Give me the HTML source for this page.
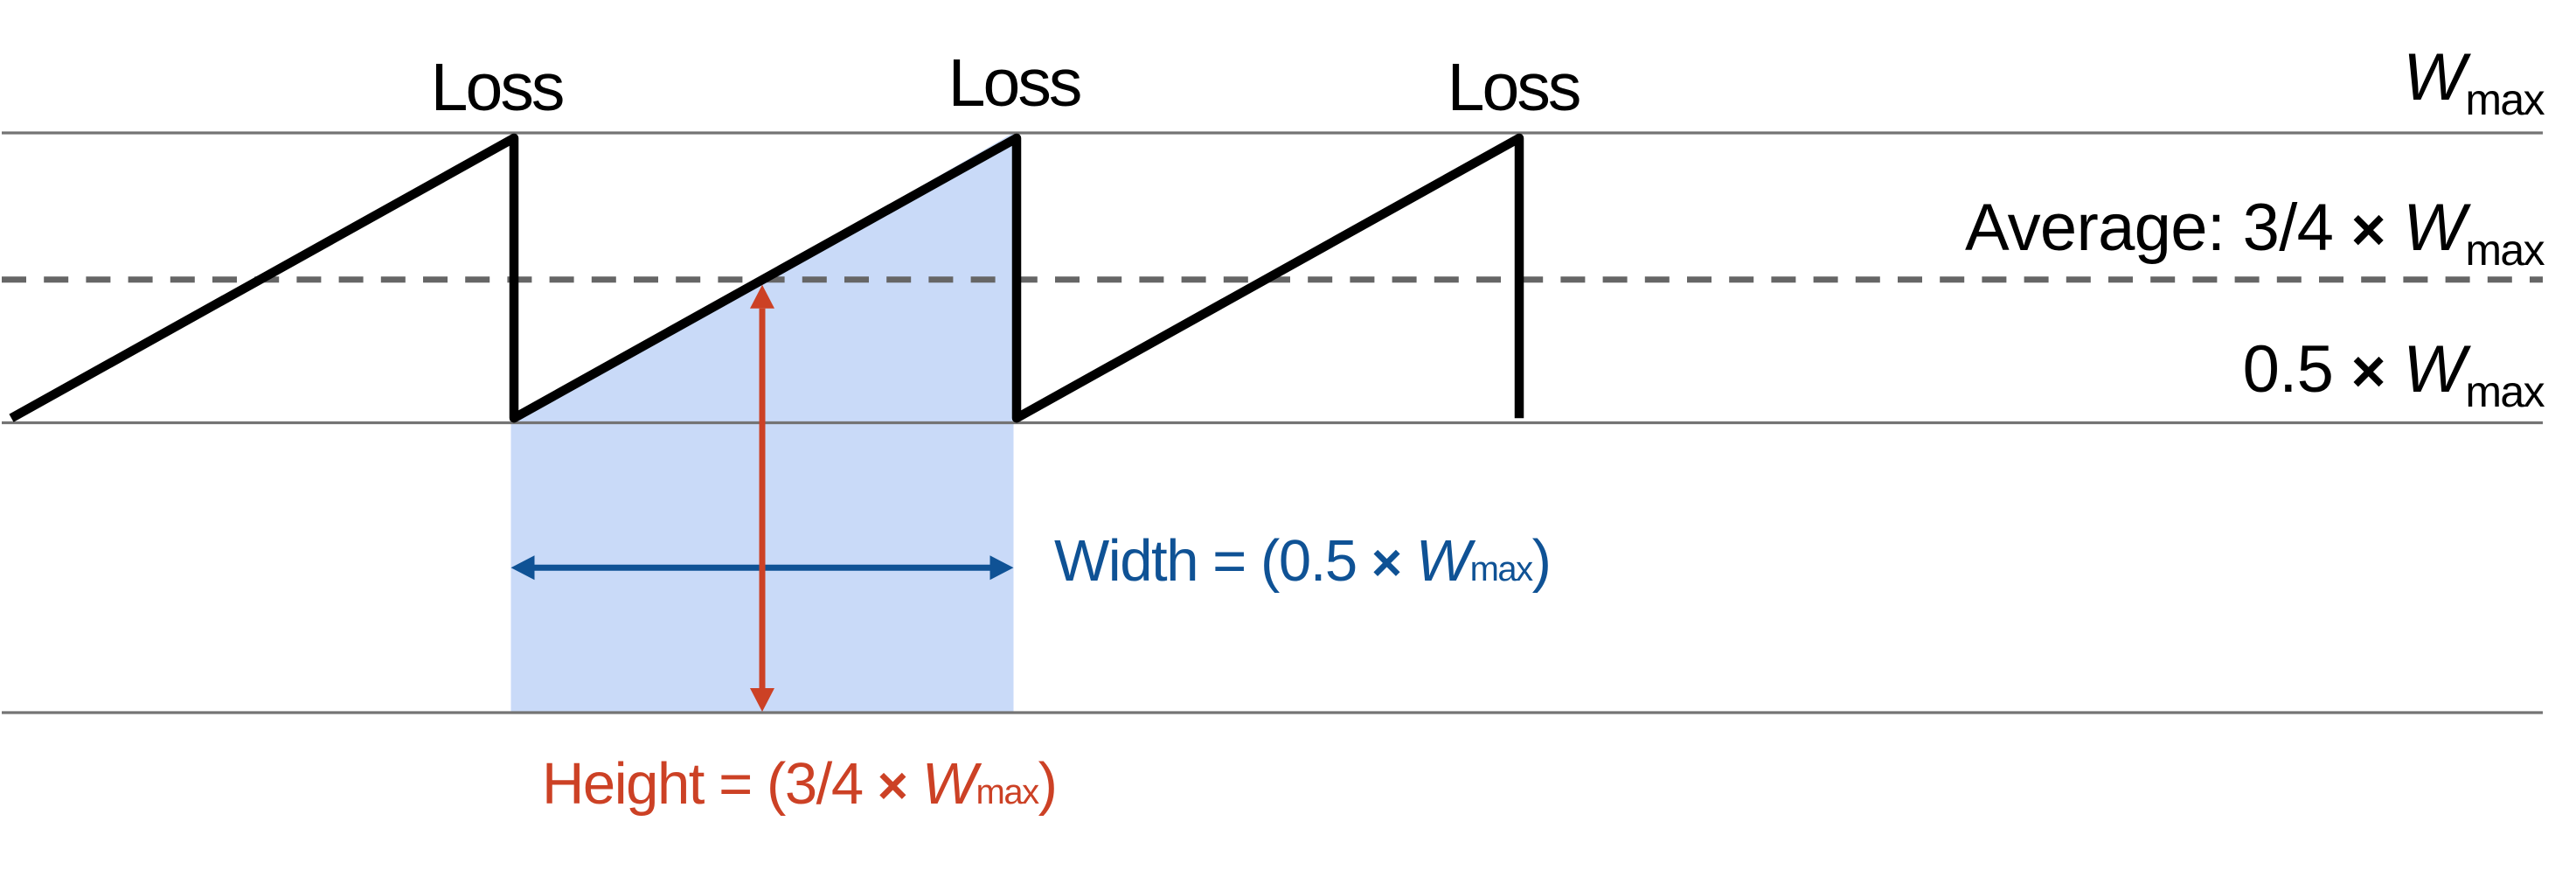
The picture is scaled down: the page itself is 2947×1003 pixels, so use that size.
<!DOCTYPE html>
<html lang="en">
<head>
<meta charset="utf-8">
<title>TCP sawtooth average window</title>
<style>
html,body{margin:0;padding:0;background:#fff;width:2947px;height:1003px;overflow:hidden}
svg{display:block}
text{font-family:"Liberation Sans",sans-serif}
.it{font-style:italic}
.big{font-size:77px;letter-spacing:-3px}
.lab{font-size:76px;letter-spacing:-0.7px}
.sub{font-size:50px;letter-spacing:-1.6px}
.mid{font-size:67px;letter-spacing:-1.45px}
.sub2{font-size:40px;letter-spacing:-1.5px}
.x{font-weight:bold;font-size:.9em}
</style>
</head>
<body>
<svg id="chart" xmlns="http://www.w3.org/2000/svg" width="2947" height="1003" viewBox="0 0 2947 1003">
  <g id="fill-layer"></g>
  <g id="grid-layer"></g>
  <g id="series-layer"></g>
  <g id="arrow-layer"></g>

  <text class="big" x="568" y="126" text-anchor="middle" fill="#000">Loss</text>
  <text class="big" x="1160" y="121" text-anchor="middle" fill="#000">Loss</text>
  <text class="big" x="1731" y="126" text-anchor="middle" fill="#000">Loss</text>

  <text class="lab" x="2910" y="114" text-anchor="end" fill="#000"><tspan class="it">W</tspan><tspan class="sub" dy="17">max</tspan></text>
  <text class="lab" x="2910" y="286" text-anchor="end" fill="#000">Average: 3/4 <tspan class="x">×</tspan> <tspan class="it">W</tspan><tspan class="sub" dy="17">max</tspan></text>
  <text class="lab" x="2910" y="448" text-anchor="end" fill="#000">0.5 <tspan class="x">×</tspan> <tspan class="it">W</tspan><tspan class="sub" dy="17">max</tspan></text>

  <text class="mid" x="1206" y="664" fill="#0f5295">Width = (0.5 <tspan class="x">×</tspan> <tspan class="it">W</tspan><tspan class="sub2">max</tspan>)</text>
  <text class="mid" x="620" y="919" fill="#cc4125">Height = (3/4 <tspan class="x">×</tspan> <tspan class="it">W</tspan><tspan class="sub2">max</tspan>)</text>
</svg>
<script>
// Chart data: time in congestion-cycle units, window as a fraction of Wmax
const timePoints = [0, 1, 1, 2, 2, 3, 3];
const windowValues = [0.508, 0.991, 0.508, 0.991, 0.508, 0.991, 0.508];
const gridValues = [1, 0.5, 0];
const averageValue = 0.747;
const areaTimes = [1, 1, 2, 2];
const areaValues = [0, 0.5, 1, 0];
const widthArrowTimes = [1, 2];
const widthArrowValue = 0.25;
const heightArrowTime = 1.5;
const heightArrowValues = [0, 0.738];

const NS = 'http://www.w3.org/2000/svg';
const xAxis = t => 13 + 575 * t;
const yAxis = v => 815 - 663 * v;
const fillX = t => xAxis(t) - 3.5;
const GRID_LEFT = 2;
const GRID_RIGHT = 2909;

function make(tag, parent, attrs) {
  const el = document.createElementNS(NS, tag);
  Object.keys(attrs).forEach(k => el.setAttribute(k, attrs[k]));
  parent.appendChild(el);
  return el;
}

const fillLayer = document.getElementById('fill-layer');
const gridLayer = document.getElementById('grid-layer');
const seriesLayer = document.getElementById('series-layer');
const arrowLayer = document.getElementById('arrow-layer');

// Shaded area
const area = make('polygon', fillLayer, {
  points: areaTimes.map((t, i) => fillX(t) + ',' + yAxis(areaValues[i])).join(' '),
  fill: '#c9daf8'
});



// Solid reference lines
gridValues.forEach(v => {
  const line = make('line', gridLayer, {
    x1: GRID_LEFT, x2: GRID_RIGHT, y1: yAxis(v), y2: yAxis(v),
    stroke: '#747474', 'stroke-width': 3.2
  });
  
  
});

// Dashed average line
const avg = make('line', gridLayer, {
  x1: GRID_LEFT, x2: GRID_RIGHT, y1: yAxis(averageValue), y2: yAxis(averageValue),
  stroke: '#666', 'stroke-width': 7, 'stroke-dasharray': '28 20.2'
});



// Sawtooth series
const saw = make('polyline', seriesLayer, {
  points: timePoints.map((t, i) => xAxis(t) + ',' + yAxis(windowValues[i])).join(' '),
  fill: 'none', stroke: '#000', 'stroke-width': 10.5, 'stroke-linejoin': 'round', 'stroke-linecap': 'butt'
});



// Height arrow (red)
const hx = fillX(heightArrowTime);
const hy0 = yAxis(heightArrowValues[0]) - 1;
const hy1 = yAxis(heightArrowValues[1]);
const HEAD = 27, HALF = 14;
const hLine = make('line', arrowLayer, {
  x1: hx, x2: hx, y1: hy0 - HEAD, y2: hy1 + HEAD, stroke: '#cc4125', 'stroke-width': 7
});


const hTop = make('polygon', arrowLayer, {
  points: [hx + ',' + hy1, (hx - HALF) + ',' + (hy1 + HEAD), (hx + HALF) + ',' + (hy1 + HEAD)].join(' '),
  fill: '#cc4125'
});


const hBot = make('polygon', arrowLayer, {
  points: [hx + ',' + hy0, (hx - HALF) + ',' + (hy0 - HEAD), (hx + HALF) + ',' + (hy0 - HEAD)].join(' '),
  fill: '#cc4125'
});



// Width arrow (blue)
const wx0 = fillX(widthArrowTimes[0]);
const wx1 = fillX(widthArrowTimes[1]);
const wy = yAxis(widthArrowValue);
const wLine = make('line', arrowLayer, {
  x1: wx0 + HEAD, x2: wx1 - HEAD, y1: wy, y2: wy, stroke: '#0f5295', 'stroke-width': 7
});


const wLeft = make('polygon', arrowLayer, {
  points: [wx0 + ',' + wy, (wx0 + HEAD) + ',' + (wy - HALF), (wx0 + HEAD) + ',' + (wy + HALF)].join(' '),
  fill: '#0f5295'
});


const wRight = make('polygon', arrowLayer, {
  points: [wx1 + ',' + wy, (wx1 - HEAD) + ',' + (wy - HALF), (wx1 - HEAD) + ',' + (wy + HALF)].join(' '),
  fill: '#0f5295'
});


// Red vertical sits over the blue horizontal in the reference
arrowLayer.appendChild(hLine);
</script>
</body>
</html>
